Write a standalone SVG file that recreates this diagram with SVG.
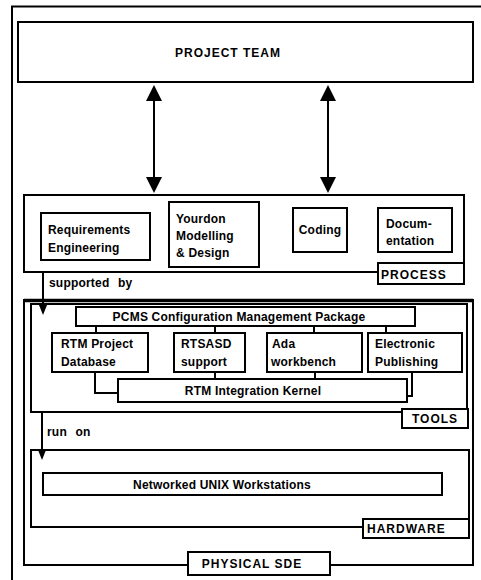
<svg xmlns="http://www.w3.org/2000/svg" width="481" height="580" viewBox="0 0 481 580">
  <style>
    .box { fill: #fff; stroke: #000; stroke-width: 2; }
    .frame { fill: none; stroke: #000; stroke-width: 2; }
    .wire { fill: none; stroke: #000; stroke-width: 2; }
    .t { font-family: "Liberation Sans", Arial, sans-serif; font-weight: bold; font-size: 12px; fill: #000; letter-spacing: 0.2px; }
    .cap { font-family: "Liberation Sans", Arial, sans-serif; font-weight: bold; font-size: 12px; fill: #000; letter-spacing: 1px; }
    .mid { text-anchor: middle; }
  </style>
  <defs>
    <marker id="bigHead" viewBox="0 -8 16 16" refX="0" refY="0" markerWidth="16" markerHeight="16" markerUnits="userSpaceOnUse" orient="auto-start-reverse">
      <path d="M0,-8 L16,0 L0,8 z" fill="#000"/>
    </marker>
    <marker id="smallHead" viewBox="0 -4 10 8" refX="0" refY="0" markerWidth="10" markerHeight="8" markerUnits="userSpaceOnUse" orient="auto">
      <path d="M0,-4 L10,0 L0,4 z" fill="#000"/>
    </marker>
  </defs>

  <!-- page frame -->
  <path class="frame" d="M12,580 V6.5 H481" stroke-width="1.5"/>

  <!-- Project team -->
  <g id="project-team">
    <rect class="box" x="18" y="22" width="455" height="60" stroke-width="2.5"/>
    <text class="cap mid" x="228" y="57">PROJECT TEAM</text>
  </g>

  <!-- Process layer -->
  <g id="process">
    <rect class="box" x="24" y="195" width="440" height="77"/>
    <rect class="box" x="378" y="263" width="86" height="21"/>
    <text class="cap" x="381" y="279">PROCESS</text>
  </g>
  <g id="requirements">
    <rect class="box" x="41" y="213" width="109" height="47"/>
    <text class="t" x="48" y="234">Requirements</text>
    <text class="t" x="48" y="252">Engineering</text>
  </g>
  <g id="yourdon">
    <rect class="box" x="169" y="202" width="90" height="65"/>
    <text class="t" x="176" y="223">Yourdon</text>
    <text class="t" x="176" y="240">Modelling</text>
    <text class="t" x="176" y="257">&amp; Design</text>
  </g>
  <g id="coding">
    <rect class="box" x="293" y="208" width="54" height="44"/>
    <text class="t mid" x="320" y="234">Coding</text>
  </g>
  <g id="documentation">
    <rect class="box" x="378" y="208" width="74" height="44"/>
    <text class="t" x="386" y="228">Docum-</text>
    <text class="t" x="386" y="245">entation</text>
  </g>

  <!-- Physical SDE enclosure -->
  <g id="physical-sde">
    <rect class="frame" x="24" y="300" width="449" height="265"/>
    <line x1="24" y1="300.5" x2="473" y2="300.5" stroke="#000" stroke-width="3.5"/>
    <rect class="box" x="188" y="552" width="142" height="23"/>
    <text class="cap mid" x="252" y="568">PHYSICAL SDE</text>
  </g>

  <!-- Tools layer -->
  <g id="tools">
    <rect class="frame" x="31" y="304" width="436" height="108"/>
    <rect class="box" x="402" y="409" width="66" height="19"/>
    <text class="cap mid" x="435" y="423">TOOLS</text>
  </g>
  <g id="pcms">
    <rect class="box" x="76" y="307" width="339" height="19"/>
    <text class="t mid" x="239" y="321">PCMS Configuration Management Package</text>
  </g>
  <g id="rtm-database">
    <rect class="box" x="52" y="333" width="96" height="39"/>
    <text class="t" x="61" y="348">RTM Project</text>
    <text class="t" x="61" y="366">Database</text>
  </g>
  <g id="rtsasd">
    <rect class="box" x="174" y="333" width="71" height="39"/>
    <text class="t" x="181" y="348">RTSASD</text>
    <text class="t" x="181" y="366">support</text>
  </g>
  <g id="ada">
    <rect class="box" x="267" y="333" width="95" height="39"/>
    <text class="t" x="272" y="348">Ada</text>
    <text class="t" x="271" y="366">workbench</text>
  </g>
  <g id="publishing">
    <rect class="box" x="368" y="333" width="94" height="39"/>
    <text class="t" x="375" y="348">Electronic</text>
    <text class="t" x="375" y="366">Publishing</text>
  </g>
  <g id="kernel">
    <rect class="box" x="118" y="379" width="289" height="23"/>
    <text class="t mid" x="253" y="395">RTM Integration Kernel</text>
  </g>

  <!-- Hardware layer -->
  <g id="hardware">
    <rect class="frame" x="31" y="450" width="438" height="77"/>
    <rect class="box" x="363" y="519" width="106" height="19"/>
    <text class="cap" x="367" y="533">HARDWARE</text>
  </g>
  <g id="workstations">
    <rect class="box" x="43" y="473" width="399" height="22"/>
    <text class="t mid" x="222" y="489">Networked UNIX Workstations</text>
  </g>

  <!-- connectors -->
  <g id="connectors">
    <line class="wire" x1="154" y1="101" x2="154" y2="177" stroke-width="2.5" marker-start="url(#bigHead)" marker-end="url(#bigHead)"/>
    <line class="wire" x1="328" y1="101" x2="328" y2="177" stroke-width="2.5" marker-start="url(#bigHead)" marker-end="url(#bigHead)"/>

    <line class="wire" x1="43" y1="272" x2="43" y2="305" stroke-width="1.5" marker-end="url(#smallHead)"/>
    <text class="t" x="49" y="287" word-spacing="5">supported by</text>

    <line class="wire" x1="42" y1="412" x2="42" y2="450" stroke-width="1.5" marker-end="url(#smallHead)"/>
    <text class="t" x="47" y="436" word-spacing="5">run on</text>

    <!-- PCMS to tool boxes -->
    <path class="wire" d="M96,326 V333 M215,326 V333 M314,326 V333 M386,326 V333"/>
    <!-- tool boxes to integration kernel -->
    <path class="wire" d="M95,372 V393 H118 M215,372 V379 M315,372 V379 M412,372 V396 H407"/>
  </g>
</svg>
